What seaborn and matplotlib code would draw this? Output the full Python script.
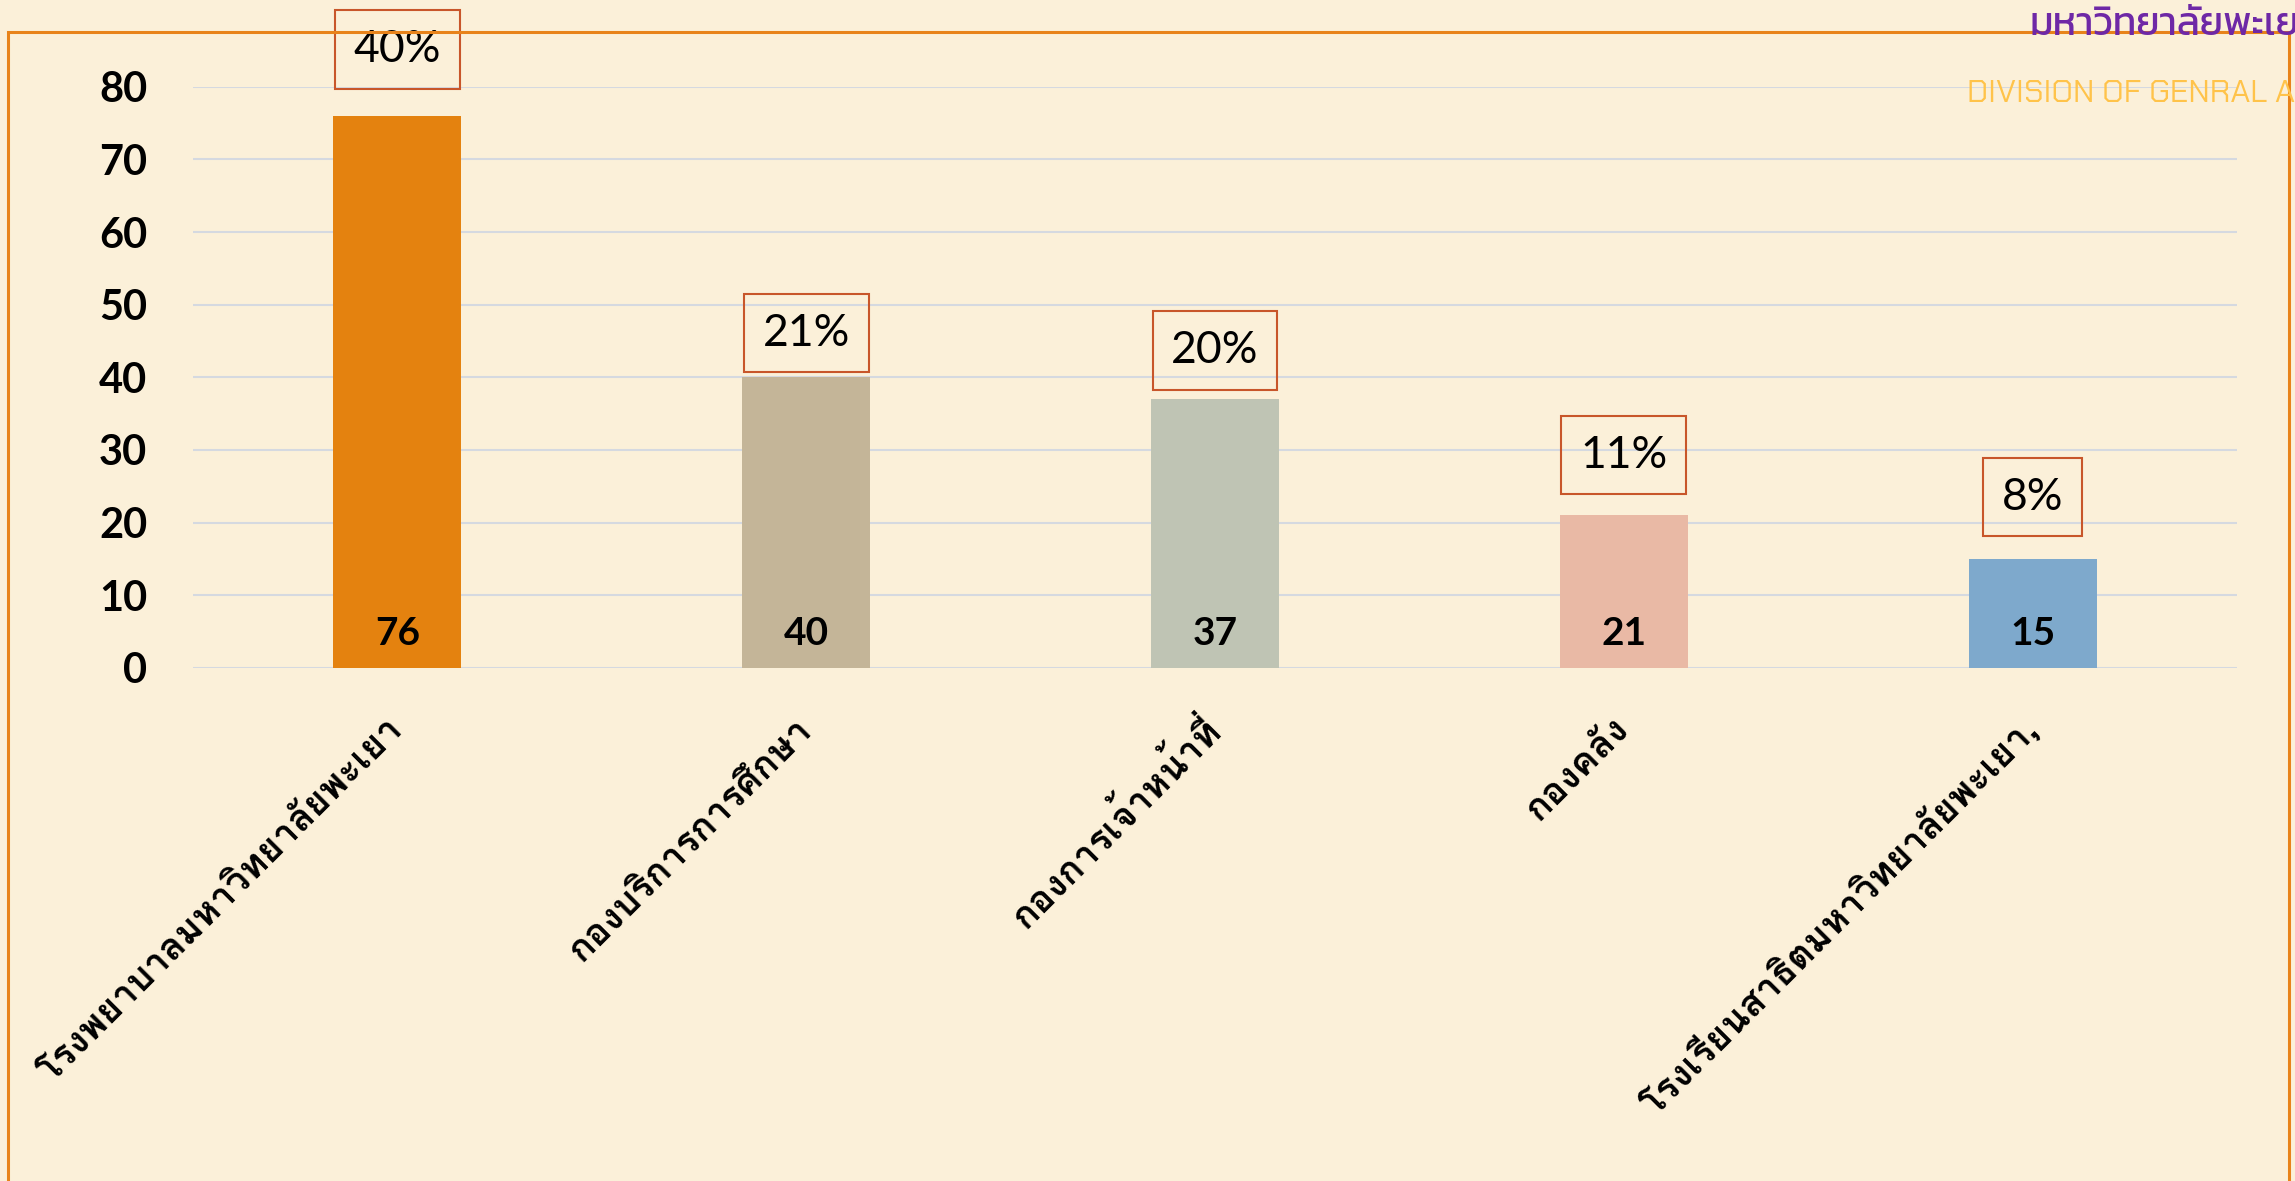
import matplotlib
matplotlib.use("Agg")
import matplotlib.pyplot as plt
from matplotlib.patches import Rectangle
import seaborn as sns
import pandas as pd

# data
departments = ['โรงพยาบาลมหาวิทยาลัยพะเยา', 'กองบริการการศึกษา', 'กองการเจ้าหน้าที่',
               'กองคลัง', 'โรงเรียนสาธิตมหาวิทยาลัยพะเยา,']
counts = [76, 40, 37, 21, 15]
shares = ['40%', '21%', '20%', '11%', '8%']
bar_colors = ['#E4820F', '#C4B598', '#BFC4B4', '#E9B9A5', '#7EA9CC']

sns.set_theme(style="white")
plt.rcParams['font.family'] = ['Lato', 'Loma', 'DejaVu Sans']
num_font = ['Lato', 'DejaVu Sans']
thai_font = ['Loma', 'Noto Sans Thai Looped', 'DejaVu Sans']

df = pd.DataFrame({'dept': departments, 'count': counts})

bg = '#FBF0D9'
fig = plt.figure(figsize=(22.95, 11.81), dpi=100, facecolor=bg)
ax = fig.add_axes([0.0841, 0.4344, 0.8906, 0.4922])
ax.set_facecolor('none')

sns.barplot(data=df, x='dept', y='count', hue='dept', palette=bar_colors,
            width=0.313, legend=False, ax=ax, saturation=1, linewidth=0)

ax.set_ylim(0, 80)
ax.set_xlim(-0.5, 4.5)
ax.set_yticks(range(0, 81, 10))
ax.grid(axis='y', color='#D5D9E0', lw=1.5)
ax.set_axisbelow(True)
sns.despine(ax=ax, left=True, bottom=True)
ax.set_xlabel('')
ax.set_ylabel('')
ax.tick_params(axis='y', length=0, pad=33, labelsize=30, labelcolor='black')
for t in ax.get_yticklabels():
    t.set_fontweight('bold')
    t.set_family(num_font)
ax.tick_params(axis='x', length=0, pad=40, labelsize=27, labelcolor='black')
for t in ax.get_xticklabels():
    t.set_rotation(45)
    t.set_ha('right')
    t.set_va('center')
    t.set_rotation_mode('anchor')
    t.set_family(thai_font)
    t.set_fontweight('bold')

# counts inside the bars, shares in boxes above them
box_offsets = [9.1, 6.1, 6.7, 8.3, 8.5]
for i, (c, s) in enumerate(zip(counts, shares)):
    ax.annotate(str(c), (i, 0), xytext=(0, 25), textcoords='offset points',
                ha='center', va='center', fontsize=28, fontweight='bold',
                family=num_font, color='black')
    ax.text(i, c + box_offsets[i], s, ha='center', va='center', fontsize=32,
            family=num_font, color='black', clip_on=False,
            bbox=dict(boxstyle='square,pad=0.42', fc='none', ec='#C8562A', lw=1.5))

# frame and header (cut off at the right edge, as in the original slide)
fig.patches.append(Rectangle((0.0035, -0.02), 0.9939, 0.9929, transform=fig.transFigure,
                             fill=False, ec='#E8831A', lw=2.2, zorder=0))
fig.text(0.8845, 0.970, 'มหาวิทยาลัยพะเยา', color='#6E28A6', fontsize=28,
         family=['Kanit', 'DejaVu Sans'], va='baseline')
fig.text(0.857, 0.914, 'DIVISION OF GENRAL AFFAIRS', color='#FFC34A', fontsize=23,
         family=['Chakra Petch', 'DejaVu Sans'], va='baseline')

fig.savefig('out.png', dpi=100, facecolor=bg)
